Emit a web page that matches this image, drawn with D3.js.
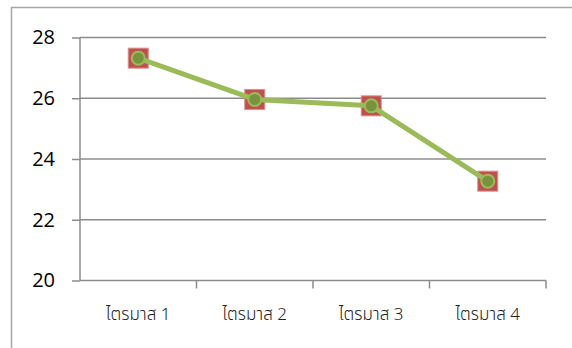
<!DOCTYPE html>
<html lang="th">
<head>
<meta charset="UTF-8">
<title>ไตรมาส</title>
<script src="https://d3js.org/d3.v7.min.js"></script>
<style>
    body { margin: 0; background: #fff; }
</style>
</head>
<body>
<div id="chart"></div>
<script>
    // chart data
    const categories = ["ไตรมาส 1", "ไตรมาส 2", "ไตรมาส 3", "ไตรมาส 4"];
    const seriesA = [27.32, 25.96, 25.75, 23.27];   // red squares
    const seriesB = [27.32, 25.96, 25.75, 23.27];   // green line + dots
    const yTicks = [20, 22, 24, 26, 28];

    const W = 572, H = 348;
    const margin = { top: 37.5, right: 26, bottom: 67.5, left: 80 };
    const width = W - margin.left - margin.right;
    const height = H - margin.top - margin.bottom;

    const svg = d3.select("#chart").append("svg")
        .attr("width", W)
        .attr("height", H);

    // outer chart border (bottom/right run off the picture)
    svg.append("rect")
        .attr("x", 11.5).attr("y", 7.5)
        .attr("width", 580).attr("height", 360)
        .attr("fill", "none")
        .attr("stroke", "#a6a6a6")
        .attr("stroke-width", 1.5);

    const g = svg.append("g")
        .attr("transform", `translate(${margin.left},${margin.top})`);

    const x = d3.scaleBand().domain(categories).range([0, width]);
    const y = d3.scaleLinear().domain([20, 28]).range([height, 0]);

    // horizontal gridlines
    g.selectAll(".grid").data(yTicks.slice(1)).join("line")
        .attr("x1", 0).attr("x2", width)
        .attr("y1", d => y(d)).attr("y2", d => y(d))
        .attr("stroke", "#8c8c8c").attr("stroke-width", 1.5);

    // y axis
    const yAxis = g.append("g")
        .call(d3.axisLeft(y).tickValues(yTicks).tickSize(8).tickPadding(17).tickFormat(d3.format("d")));
    yAxis.select(".domain").attr("stroke", "#8c8c8c").attr("stroke-width", 1.5).attr("d", `M0,${height}V0`);
    yAxis.selectAll(".tick line").attr("stroke", "#8c8c8c").attr("stroke-width", 1.5);
    yAxis.selectAll("text")
        .attr("fill", "#000")
        .style("font-family", "'Open Sans', 'Liberation Sans', sans-serif")
        .style("font-size", "20px");

    // x axis, ticks at band edges
    const xAxis = g.append("g").attr("transform", `translate(0,${height})`);
    xAxis.append("line")
        .attr("x1", 0).attr("x2", width)
        .attr("stroke", "#8c8c8c").attr("stroke-width", 1.5);
    xAxis.selectAll(".xt").data(categories).join("line")
        .attr("x1", d => x(d) + x.bandwidth()).attr("x2", d => x(d) + x.bandwidth())
        .attr("y1", 0).attr("y2", 8)
        .attr("stroke", "#8c8c8c").attr("stroke-width", 1.5);
    xAxis.selectAll(".xl").data(categories).join("text")
        .attr("x", d => x(d) + x.bandwidth() / 2)
        .attr("y", 39)
        .attr("text-anchor", "middle")
        .attr("fill", "#222")
        .style("font-family", "'Noto Sans Thai', 'Noto Sans', sans-serif")
        .style("font-size", "17px")
        .style("font-weight", "300")
        .text(d => d);

    const cx = (d, i) => x(categories[i]) + x.bandwidth() / 2;

    // series A: red square markers
    g.selectAll(".sq").data(seriesA).join("rect")
        .attr("x", (d, i) => cx(d, i) - 10)
        .attr("y", d => y(d) - 10)
        .attr("width", 20).attr("height", 20)
        .attr("fill", "#c0504d")
        .attr("stroke", "#d98f8d").attr("stroke-width", 1);

    // series B: green line with round markers
    const line = d3.line().x((d, i) => cx(d, i)).y(d => y(d));
    g.append("path").datum(seriesB)
        .attr("d", line)
        .attr("fill", "none")
        .attr("stroke", "#9bbb59")
        .attr("stroke-width", 5)
        .attr("stroke-linejoin", "round");
    g.selectAll(".dot").data(seriesB).join("circle")
        .attr("cx", (d, i) => cx(d, i))
        .attr("cy", d => y(d))
        .attr("r", 6.5)
        .attr("fill", "#77933c")
        .attr("stroke", "#9bbb59").attr("stroke-width", 2);
</script>
</body>
</html>
